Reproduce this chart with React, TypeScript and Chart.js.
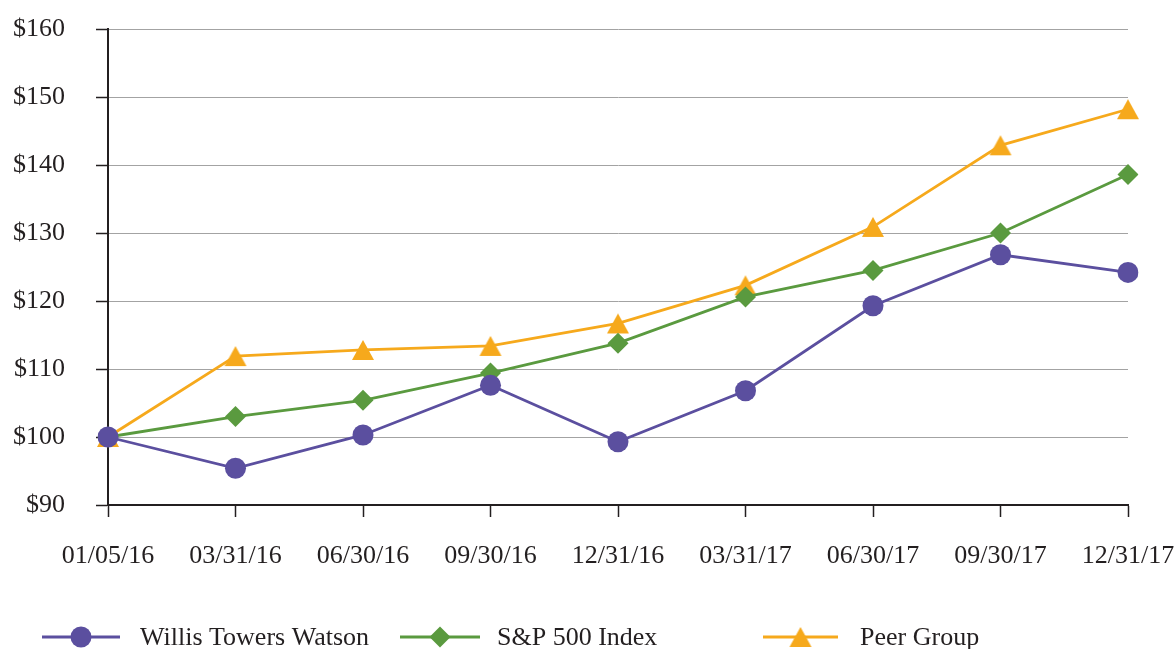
import React, { useEffect, useRef } from "react";
import { Chart, registerables } from "chart.js";

Chart.register(...registerables);

const categories = ["01/05/16", "03/31/16", "06/30/16", "09/30/16", "12/31/16", "03/31/17", "06/30/17", "09/30/17", "12/31/17"];
const willisValues = [100, 95.4, 100.3, 107.6, 99.3, 106.8, 119.3, 126.8, 124.2];
const spValues = [100, 103.0, 105.4, 109.4, 113.8, 120.6, 124.5, 130.0, 138.6];
const peerValues = [100, 111.9, 112.8, 113.4, 116.7, 122.3, 130.9, 142.9, 148.2];
const seriesNames = ["Willis Towers Watson", "S&P 500 Index", "Peer Group"];

const FONT = "'Liberation Serif', 'Times New Roman', serif";
const TEXT = "#231f20";
const PURPLE = "#5b4f9f";
const GREEN = "#5a9a3f";
const ORANGE = "#f6a91c";

const legendLayout = [
  { lineStart: 42, lineEnd: 120, textX: 140 },
  { lineStart: 400, lineEnd: 480, textX: 497 },
  { lineStart: 763, lineEnd: 838, textX: 860 },
];

function makeTriangle(color: string): HTMLCanvasElement {
  const c = document.createElement("canvas");
  c.width = 24;
  c.height = 24;
  const g = c.getContext("2d")!;
  g.fillStyle = color;
  g.beginPath();
  g.moveTo(12, 2);
  g.lineTo(23, 22);
  g.lineTo(1, 22);
  g.closePath();
  g.fill();
  return c;
}

function drawMarker(ctx: CanvasRenderingContext2D, style: any, r: number, x: number, y: number) {
  if (typeof style !== "string") {
    ctx.drawImage(style, x - style.width / 2, y - style.height / 2);
    return;
  }
  ctx.beginPath();
  if (style === "circle") {
    ctx.arc(x, y, r, 0, Math.PI * 2);
  } else if (style === "rectRot") {
    ctx.moveTo(x, y - r);
    ctx.lineTo(x + r, y);
    ctx.lineTo(x, y + r);
    ctx.lineTo(x - r, y);
  }
  ctx.closePath();
  ctx.fill();
}

const legendPlugin = {
  id: "customLegend",
  afterDraw(chart: any) {
    const ctx = chart.ctx;
    const y = 637;
    chart.data.datasets.forEach((ds: any, i: number) => {
      const l = legendLayout[i];
      ctx.save();
      ctx.strokeStyle = ds.borderColor;
      ctx.lineWidth = ds.borderWidth;
      ctx.beginPath();
      ctx.moveTo(l.lineStart, y);
      ctx.lineTo(l.lineEnd, y);
      ctx.stroke();
      ctx.fillStyle = ds.pointBackgroundColor;
      const cx = (l.lineStart + l.lineEnd) / 2;
      drawMarker(ctx, ds.pointStyle, ds.pointRadius, cx, y);
      ctx.fillStyle = TEXT;
      ctx.font = `26px ${FONT}`;
      ctx.textBaseline = "middle";
      ctx.textAlign = "left";
      ctx.fillText(ds.label, l.textX, y + 1);
      ctx.restore();
    });
  },
};

export default function App() {
  const ref = useRef<HTMLCanvasElement>(null);
  useEffect(() => {
    document.body.style.margin = "0";
    const canvas = ref.current!;
    const tri = makeTriangle(ORANGE);
    const chart = new Chart(canvas, {
      type: "line",
      data: {
        labels: categories,
        datasets: [
          {
            label: seriesNames[0],
            data: willisValues,
            borderColor: PURPLE,
            backgroundColor: PURPLE,
            pointBackgroundColor: PURPLE,
            pointBorderColor: PURPLE,
            pointStyle: "circle",
            pointRadius: 10.5,
            pointBorderWidth: 0,
            borderWidth: 2.8,
          },
          {
            label: seriesNames[1],
            data: spValues,
            borderColor: GREEN,
            backgroundColor: GREEN,
            pointBackgroundColor: GREEN,
            pointBorderColor: GREEN,
            pointStyle: "rectRot",
            pointRadius: 10.5,
            pointBorderWidth: 0,
            borderWidth: 2.8,
          },
          {
            label: seriesNames[2],
            data: peerValues,
            borderColor: ORANGE,
            backgroundColor: ORANGE,
            pointBackgroundColor: ORANGE,
            pointBorderColor: ORANGE,
            pointStyle: tri,
            pointRadius: 11,
            pointBorderWidth: 0,
            borderWidth: 2.8,
          },
        ] as any,
      },
      options: {
        animation: false,
        responsive: false,
        maintainAspectRatio: false,
        devicePixelRatio: 1,
        layout: { padding: { top: 29, right: 46, left: 0, bottom: 74 } },
        plugins: { legend: { display: false }, tooltip: { enabled: false } },
        scales: {
          x: {
            type: "category",
            offset: false,
            grid: {
              drawOnChartArea: false,
              drawTicks: true,
              tickLength: 12,
              tickColor: "#231f20",
              tickWidth: 1.5,
            },
            border: { color: "#231f20", width: 2 },
            ticks: {
              color: TEXT,
              font: { family: FONT, size: 26 },
              padding: 24,
              maxRotation: 0,
              autoSkip: false,
            },
            afterFit(scale: any) {
              scale.paddingLeft = 0;
              scale.paddingRight = 0;
              scale.height = 70;
            },
          },
          y: {
            min: 90,
            max: 160,
            grid: {
              color: "#a3a3a3",
              lineWidth: 1,
              drawTicks: true,
              tickLength: 12,
              tickColor: "#231f20",
              tickWidth: 1.5,
            },
            border: { color: "#231f20", width: 2 },
            ticks: {
              stepSize: 10,
              color: TEXT,
              font: { family: FONT, size: 26 },
              padding: 31,
              callback: (v: any) => `$${v}`,
            },
            afterFit(scale: any) {
              scale.width = 108;
              scale.paddingTop = 0;
              scale.paddingBottom = 0;
            },
          },
        },
      } as any,
      plugins: [legendPlugin],
    });
    return () => chart.destroy();
  }, []);
  return <canvas ref={ref} width={1174} height={649} style={{ display: "block" }} />;
}
